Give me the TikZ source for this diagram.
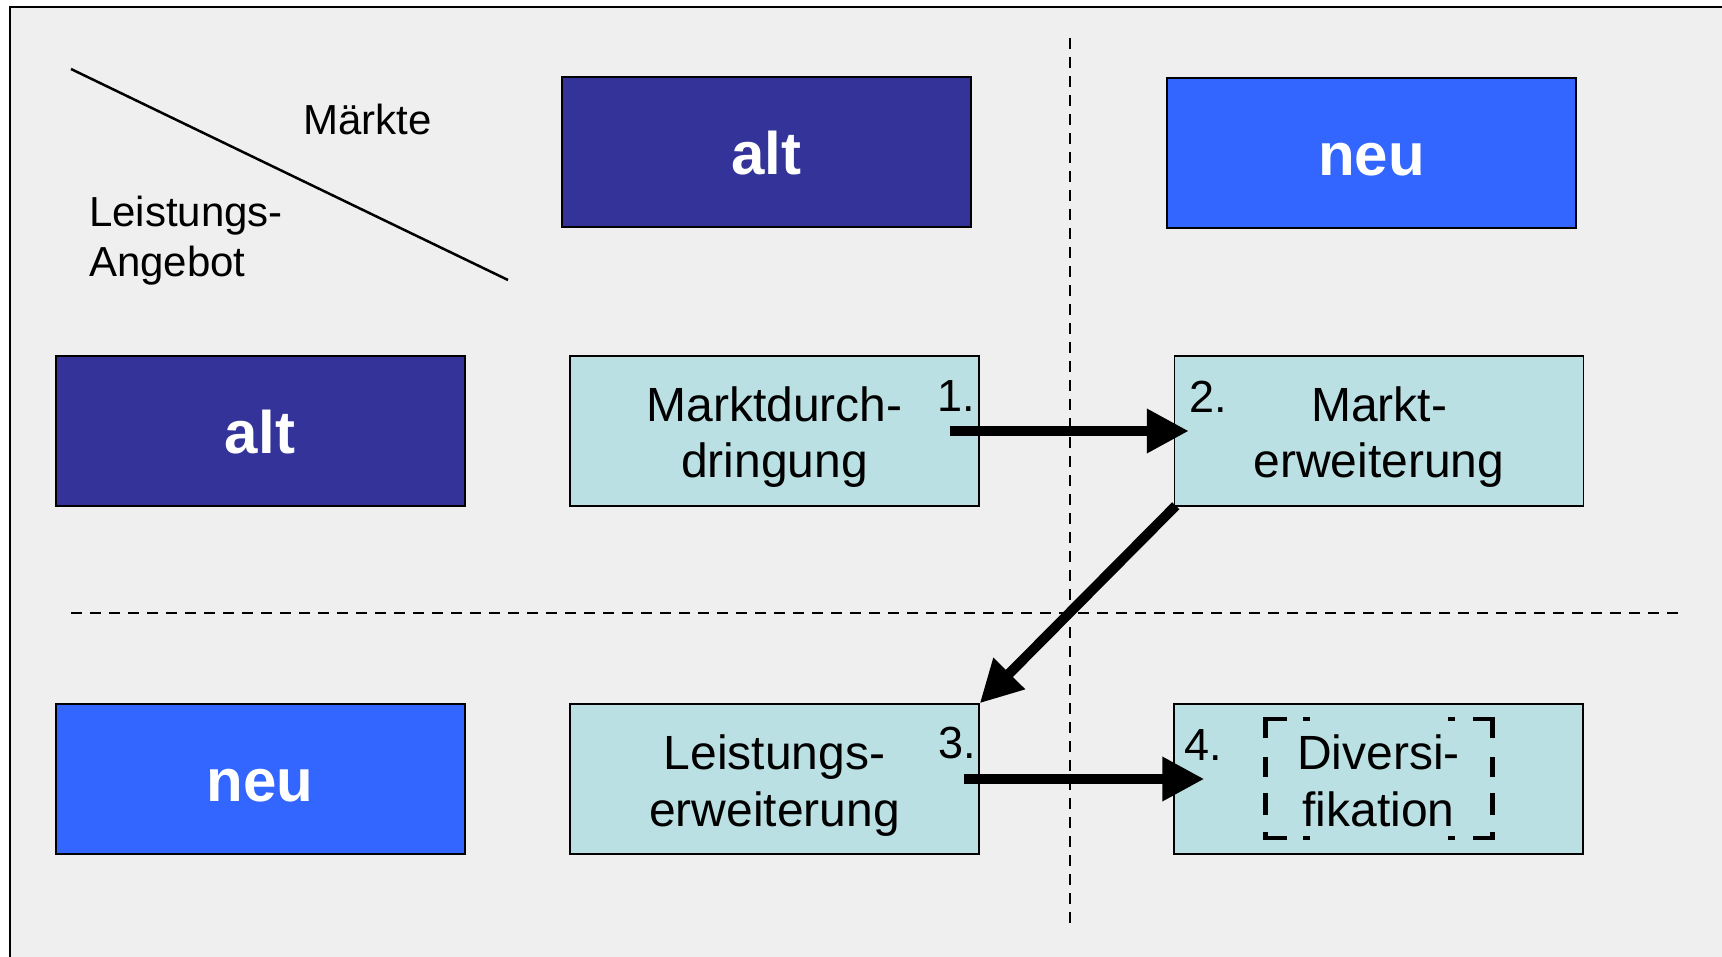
\documentclass[tikz,border=0pt]{standalone}
\usepackage{fontspec}
\setmainfont{Liberation Sans}
\usetikzlibrary{arrows.meta}

\definecolor{darkblue}{HTML}{333399}
\definecolor{brightblue}{HTML}{3366FF}
\definecolor{paleteal}{HTML}{BBE0E3}
\definecolor{panel}{HTML}{EFEFEF}

\begin{document}
\begin{tikzpicture}[x=1pt,y=-1pt,
  hdr/.style={draw=black, line width=2pt, minimum width=409pt, minimum height=150pt,
    inner sep=0pt, text=white, font=\fontsize{60}{72}\selectfont\bfseries,
    text height=45pt, text depth=0pt},
  oldhdr/.style={hdr, fill=darkblue},
  newhdr/.style={hdr, fill=brightblue},
  cell/.style={draw=black, line width=1.5pt, fill=paleteal, minimum width=409pt,
    minimum height=150pt, inner sep=0pt, align=center,
    font=\fontsize{48}{57}\selectfont, text height=94pt, text depth=0pt},
  num/.style={anchor=base west, inner sep=0pt, font=\fontsize{45}{54}\selectfont},
  axis/.style={inner sep=0pt, font=\fontsize{42}{50}\selectfont},
  divider/.style={line width=2.5pt, dash pattern=on 11pt off 8pt},
  conn/.style={line width=10pt, -{Triangle[length=42pt,width=42pt]}},
  frame/.style={draw=black, line width=2pt, fill=panel},
  dashedge/.style={line width=4.5pt, line cap=butt, line join=miter}
]
\useasboundingbox[fill=white] (0,0) rectangle (1722,957);
\begin{scope}
\clip (0,0) rectangle (1722,957);

% outer panel
\draw[frame] (9.5,7) rectangle (1745,980);

% corner header: diagonal and axis captions
\draw[line width=2.5pt] (71,69) -- (508,280);
\node[axis, anchor=base west] (maerkte) at (303,135) {Märkte};
\node[axis, anchor=base west, align=left] (angebot) at (89,277) {Leistungs-\\Angebot};

% quadrant dividers
\draw[divider] (1070,38) -- (1070,925);
\draw[divider] (71,613) -- (1683,613);

% column headers (markets)
\node[oldhdr] (colold) at (766.5,152.5) {alt};
\node[newhdr] (colnew) at (1371.5,153.5) {neu};

% row headers (offer)
\node[oldhdr] (rowold) at (260,431) {alt};
\node[newhdr] (rownew) at (260,779) {neu};

% strategy cells
\node[cell] (md) at (774.5,431) {Marktdurch-\\dringung};
\node[cell] (me) at (1379,431) {Markt-\\erweiterung};
\node[cell] (le) at (774.5,779) {Leistungs-\\erweiterung};
\node[cell] (di) at (1378.5,779) {Diversi-\\fikation};

% step numbers
\node[num] (n1) at (937,412) {1.};
\node[num] (n2) at (1189,413) {2.};
\node[num] (n3) at (938,758) {3.};
\node[num] (n4) at (1184,760) {4.};

% dashed frame around the diversification label
\draw[dashedge] (1265.5,738) -- (1265.5,719) -- (1287,719);
\draw[dashedge] (1303,719) -- (1310,719);
\draw[dashedge] (1448,719) -- (1455,719);
\draw[dashedge] (1473,719) -- (1492.5,719) -- (1492.5,738);
\draw[dashedge] (1265.5,757) -- (1265.5,777);
\draw[dashedge] (1265.5,793) -- (1265.5,815);
\draw[dashedge] (1492.5,757) -- (1492.5,777);
\draw[dashedge] (1492.5,793) -- (1492.5,815);
\draw[dashedge] (1265.5,832) -- (1265.5,838) -- (1287,838);
\draw[dashedge] (1303,838) -- (1310,838);
\draw[dashedge] (1448,838) -- (1455,838);
\draw[dashedge] (1473,838) -- (1492.5,838) -- (1492.5,832);

% growth path
\draw[conn] ([xshift=-30pt]md.east) -- ([xshift=15pt]me.west);
\draw[conn] ([shift={(2pt,1pt)}]me.south west) -- (le.north east);
\draw[conn] ([xshift=-16pt]le.east) -- ([xshift=31pt]di.west);
\end{scope}
\end{tikzpicture}
\end{document}
